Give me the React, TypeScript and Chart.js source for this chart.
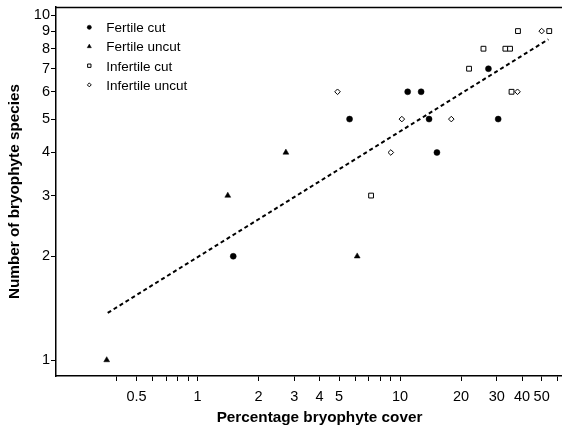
import React, { useEffect, useRef } from 'react';
import { Chart, registerables } from 'chart.js';

Chart.register(...registerables);

// ---- data ----
const seriesNames = ['Fertile cut', 'Fertile uncut', 'Infertile cut', 'Infertile uncut'];

const fertileCutX = [1.5, 5.63, 10.9, 12.7, 13.9, 15.2, 27.3, 30.5];
const fertileCutY = [2, 5, 6, 6, 5, 4, 7, 5];

const fertileUncutX = [0.356, 1.41, 2.73, 6.14];
const fertileUncutY = [1, 3, 4, 2];

const infertileCutX = [7.19, 21.9, 25.8, 33.1, 34.9, 35.5, 38.2, 54.5];
const infertileCutY = [3, 7, 8, 8, 8, 6, 9, 9];

const infertileUncutX = [4.91, 9.0, 10.2, 17.9, 38.0, 50.0];
const infertileUncutY = [6, 4, 5, 5, 6, 9];

// fitted regression line end points
const trendX = [0.36, 54.0];
const trendY = [1.37, 8.52];

const xTicks = [0.4, 0.5, 0.6, 0.7, 0.8, 0.9, 1, 2, 3, 4, 5, 6, 7, 8, 9, 10, 20, 30, 40, 50, 60];
const xLabelled = [0.5, 1, 2, 3, 4, 5, 10, 20, 30, 40, 50];
const yTicks = [1, 2, 3, 4, 5, 6, 7, 8, 9, 10];

const FONT = '"Liberation Sans", Arial, Helvetica, sans-serif';

type Style = { shape: string; radius: number; fill: string; stroke: string; lw: number };
const styles: Style[] = [
  { shape: 'circle', radius: 3, fill: '#000', stroke: '#000', lw: 0.5 },
  { shape: 'triangle', radius: 3.4, fill: '#000', stroke: '#000', lw: 0.5 },
  { shape: 'rect', radius: 3.4, fill: '#fff', stroke: '#000', lw: 1 },
  { shape: 'rectRot', radius: 2.8, fill: '#fff', stroke: '#000', lw: 1 },
];

function drawMarker(ctx: CanvasRenderingContext2D, s: Style, x: number, y: number, r: number) {
  ctx.beginPath();
  if (s.shape === 'circle') {
    ctx.arc(x, y, r, 0, Math.PI * 2);
  } else if (s.shape === 'triangle') {
    let a = 0;
    ctx.moveTo(x + Math.sin(a) * r, y - Math.cos(a) * r);
    a += (2 * Math.PI) / 3;
    ctx.lineTo(x + Math.sin(a) * r, y - Math.cos(a) * r);
    a += (2 * Math.PI) / 3;
    ctx.lineTo(x + Math.sin(a) * r, y - Math.cos(a) * r);
  } else if (s.shape === 'rect') {
    const h = r * Math.SQRT1_2;
    ctx.rect(x - h, y - h, 2 * h, 2 * h);
  } else {
    ctx.moveTo(x - r, y);
    ctx.lineTo(x, y - r);
    ctx.lineTo(x + r, y);
    ctx.lineTo(x, y + r);
  }
  ctx.closePath();
  ctx.fillStyle = s.fill;
  ctx.fill();
  ctx.lineWidth = s.lw;
  ctx.strokeStyle = s.stroke;
  ctx.stroke();
}

const insetLegend = {
  id: 'insetLegend',
  afterDatasetsDraw(chart: any) {
    const { ctx, chartArea } = chart;
    ctx.save();
    ctx.font = `13.5px ${FONT}`;
    ctx.textBaseline = 'alphabetic';
    seriesNames.forEach((name, i) => {
      const y = chartArea.top + 20.3 + i * 19.2;
      drawMarker(ctx, styles[i], chartArea.left + 33.3, y, styles[i].radius * 0.7);
      ctx.fillStyle = '#000';
      ctx.fillText(name, chartArea.left + 50.3, y + 4.8);
    });
    ctx.restore();
  },
};

const topFrame = {
  id: 'topFrame',
  afterDraw(chart: any) {
    const { ctx, chartArea } = chart;
    ctx.save();
    ctx.strokeStyle = '#000';
    ctx.lineWidth = 1.5;
    ctx.beginPath();
    ctx.moveTo(chartArea.left, chartArea.top + 0.5);
    ctx.lineTo(chart.width, chartArea.top + 0.5);
    ctx.stroke();
    ctx.restore();
  },
};

function pts(xs: number[], ys: number[]) {
  return xs.map((x, i) => ({ x, y: ys[i] }));
}

export default function App() {
  const ref = useRef<HTMLCanvasElement | null>(null);

  useEffect(() => {
    if (!ref.current) return;
    const seriesX = [fertileCutX, fertileUncutX, infertileCutX, infertileUncutX];
    const seriesY = [fertileCutY, fertileUncutY, infertileCutY, infertileUncutY];
    const datasets: any[] = seriesNames.map((name, i) => ({
      label: name,
      data: pts(seriesX[i], seriesY[i]),
      pointStyle: styles[i].shape,
      pointRadius: styles[i].radius,
      backgroundColor: styles[i].fill,
      borderColor: styles[i].stroke,
      borderWidth: styles[i].lw,
      showLine: false,
    }));
    datasets.push({
      label: 'Fit',
      data: pts(trendX, trendY),
      showLine: true,
      pointRadius: 0,
      borderColor: '#000',
      borderWidth: 2,
      borderDash: [4, 3],
      fill: false,
    });

    const chart = new Chart(ref.current, {
      type: 'scatter',
      data: { datasets },
      plugins: [insetLegend, topFrame],
      options: {
        responsive: false,
        animation: false,
        devicePixelRatio: 1,
        layout: { padding: { left: 0, top: 7, right: 17, bottom: 0 } },
        plugins: { legend: { display: false }, tooltip: { enabled: false } },
        scales: {
          x: {
            type: 'logarithmic',
            min: 0.2,
            max: 80,
            bounds: 'data',
            afterBuildTicks: (s: any) => {
              s.ticks = xTicks.map((v) => ({ value: v }));
            },
            afterFit: (s: any) => {
              s.height = 52;
              s.paddingLeft = 0;
              s.paddingRight = 0;
            },
            ticks: {
              autoSkip: false,
              maxRotation: 0,
              minRotation: 0,
              color: '#000',
              padding: 7.2,
              font: { family: FONT, size: 14.5 },
              callback: (v: any) => (xLabelled.includes(Number(v)) ? String(v) : ''),
            },
            grid: { drawOnChartArea: false, drawTicks: true, tickLength: 5, color: '#000', lineWidth: 1 },
            border: { display: true, color: '#000', width: 1.5 },
            title: {
              display: true,
              text: 'Percentage bryophyte cover',
              color: '#000',
              font: { family: FONT, size: 15.3, weight: 'bold' },
              padding: { top: 0, bottom: 0.8 },
            },
          },
          y: {
            type: 'logarithmic',
            min: 0.899,
            max: 10.57,
            bounds: 'data',
            afterBuildTicks: (s: any) => {
              s.ticks = yTicks.map((v) => ({ value: v }));
            },
            afterFit: (s: any) => {
              s.width = 56;
              s.paddingTop = 0;
              s.paddingBottom = 0;
            },
            ticks: {
              autoSkip: false,
              color: '#000',
              padding: 1,
              font: { family: FONT, size: 14.5 },
              callback: (v: any) => String(v),
            },
            grid: { drawOnChartArea: false, drawTicks: true, tickLength: 5, color: '#000', lineWidth: 1 },
            border: { display: true, color: '#000', width: 1.5 },
            title: {
              display: true,
              text: 'Number of bryophyte species',
              color: '#000',
              font: { family: FONT, size: 15.3, weight: 'bold' },
              padding: { top: 6, bottom: 0 },
            },
          },
        },
      } as any,
    });
    return () => chart.destroy();
  }, []);

  return (
    <div
      style={{
        position: 'absolute',
        left: 0,
        top: 0,
        width: 562,
        height: 428,
        overflow: 'hidden',
        background: '#fff',
      }}
    >
      <canvas ref={ref} width={600} height={428} style={{ display: 'block', width: 600, height: 428 }} />
    </div>
  );
}
